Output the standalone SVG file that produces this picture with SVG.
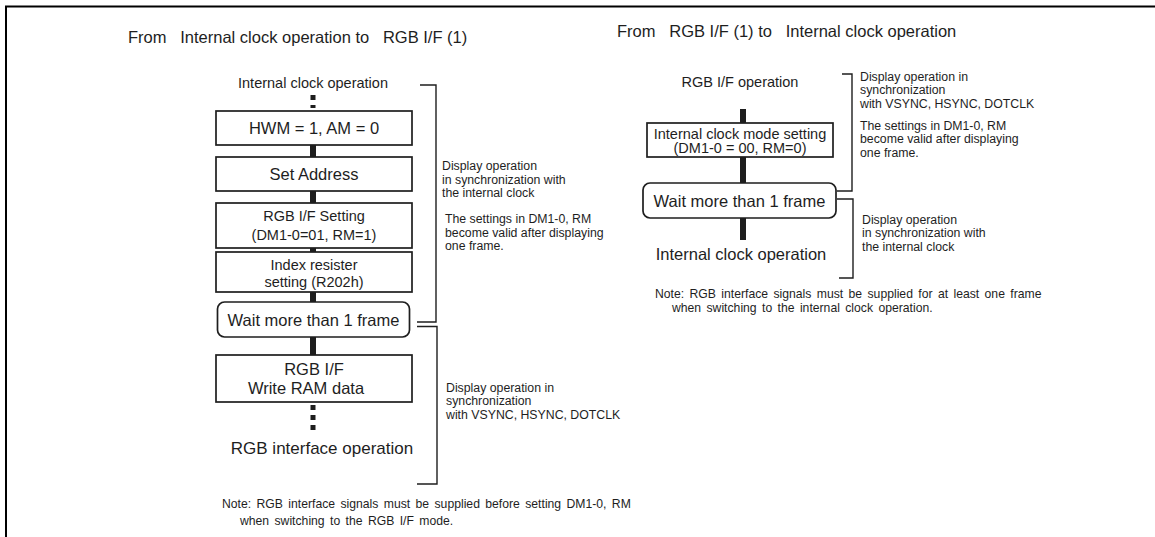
<svg xmlns="http://www.w3.org/2000/svg" width="1155" height="537" viewBox="0 0 1155 537">
<style>
text{font-family:"Liberation Sans",Arial,sans-serif;fill:#1e1e1e}
.t{font-size:16.5px}
.m{font-size:14.5px;text-anchor:middle}
.l{font-size:16.5px;text-anchor:middle}
.s{font-size:12.3px}
.n{font-size:12.2px;word-spacing:2px}
.box{fill:#fff;stroke:#1e1e1e;stroke-width:1.7}
.br{fill:none;stroke:#1e1e1e;stroke-width:1.4}
.c{stroke:#1e1e1e;stroke-width:6;fill:none}
.d{stroke:#1e1e1e;stroke-width:5;fill:none;stroke-dasharray:5 5}
</style>
<rect width="1155" height="537" fill="#fff"/>
<path d="M6 537V6.5H1155" fill="none" stroke="#000" stroke-width="2"/>
<text class="t" x="128" y="43" xml:space="preserve">From   Internal clock operation to   RGB I/F (1)</text>
<text class="t" x="617" y="37" xml:space="preserve">From   RGB I/F (1) to   Internal clock operation</text>
<g id="connectors">
<path class="d" d="M313 95V108"/>
<path class="c" d="M313 145V157M313 191V203M313 248V252M313 292V302M313 337V355"/>
<path class="d" d="M313 405V430"/>
<path class="c" d="M743 109V123M743 157V183M743 218V240"/>
</g>
<g id="l-start"><text class="m" x="313" y="88">Internal clock operation</text></g>
<g id="l-hwm"><rect class="box" x="216" y="111" width="196" height="34"/><text class="l" x="314" y="134">HWM = 1, AM = 0</text></g>
<g id="l-addr"><rect class="box" x="216" y="157" width="196" height="34"/><text class="l" x="314" y="180">Set Address</text></g>
<g id="l-rgbset"><rect class="box" x="216" y="203" width="196" height="45"/><text class="m" x="314" y="221">RGB I/F Setting</text><text class="m" x="314" y="239.5">(DM1-0=01, RM=1)</text></g>
<g id="l-index"><rect class="box" x="216" y="252" width="196" height="40"/><text class="m" x="314" y="269.5">Index resister</text><text class="m" x="314" y="286.5">setting (R202h)</text></g>
<g id="l-wait"><rect class="box" x="217.5" y="302" width="192" height="35" rx="7"/><text class="l" x="313.5" y="325.5">Wait more than 1 frame</text></g>
<g id="l-write"><rect class="box" x="216" y="355" width="196" height="47"/><text class="l" x="314" y="375">RGB I/F</text><text class="l" x="306" y="394">Write RAM data</text></g>
<g id="l-end"><text class="l" x="322" y="454" style="font-size:17px">RGB interface operation</text></g>
<g id="l-brackets">
<path class="br" d="M420 85H436V322H417"/>
<path class="br" d="M417 326.5H437V484H417"/>
<text class="s" x="442" y="170">Display operation</text>
<text class="s" x="442" y="183.5">in synchronization with</text>
<text class="s" x="442" y="197">the internal clock</text>
<text class="s" x="445" y="223">The settings in DM1-0, RM</text>
<text class="s" x="445" y="236.5">become valid after displaying</text>
<text class="s" x="445" y="250">one frame.</text>
<text class="s" x="446" y="392">Display operation in</text>
<text class="s" x="446" y="405">synchronization</text>
<text class="s" x="446" y="418.5">with VSYNC, HSYNC, DOTCLK</text>
</g>
<g id="l-note"><text class="n" x="222" y="508">Note: RGB interface signals must be supplied before setting DM1-0, RM</text><text class="n" x="240" y="525">when switching to the RGB I/F mode.</text></g>
<g id="r-start"><text class="m" x="740" y="87">RGB I/F operation</text></g>
<g id="r-mode"><rect class="box" x="647" y="123" width="186" height="34"/><text class="m" x="740" y="138.5">Internal clock mode setting</text><text class="m" x="740" y="153">(DM1-0 = 00, RM=0)</text></g>
<g id="r-wait"><rect class="box" x="643" y="183" width="193" height="35" rx="7"/><text class="l" x="739.5" y="206.5">Wait more than 1 frame</text></g>
<g id="r-end"><text class="l" x="741" y="260">Internal clock operation</text></g>
<g id="r-brackets">
<path class="br" d="M842 74H852V191H837"/>
<path class="br" d="M837 199H853V278H839"/>
<text class="s" x="860" y="81">Display operation in</text>
<text class="s" x="860" y="94">synchronization</text>
<text class="s" x="860" y="107.5">with VSYNC, HSYNC, DOTCLK</text>
<text class="s" x="860" y="130">The settings in DM1-0, RM</text>
<text class="s" x="860" y="143">become valid after displaying</text>
<text class="s" x="860" y="156.5">one frame.</text>
<text class="s" x="862" y="224">Display operation</text>
<text class="s" x="862" y="237">in synchronization with</text>
<text class="s" x="862" y="250.5">the internal clock</text>
</g>
<g id="r-note"><text class="n" x="655" y="298">Note: RGB interface signals must be supplied for at least one frame</text><text class="n" x="672" y="312">when switching to the internal clock operation.</text></g>
</svg>
